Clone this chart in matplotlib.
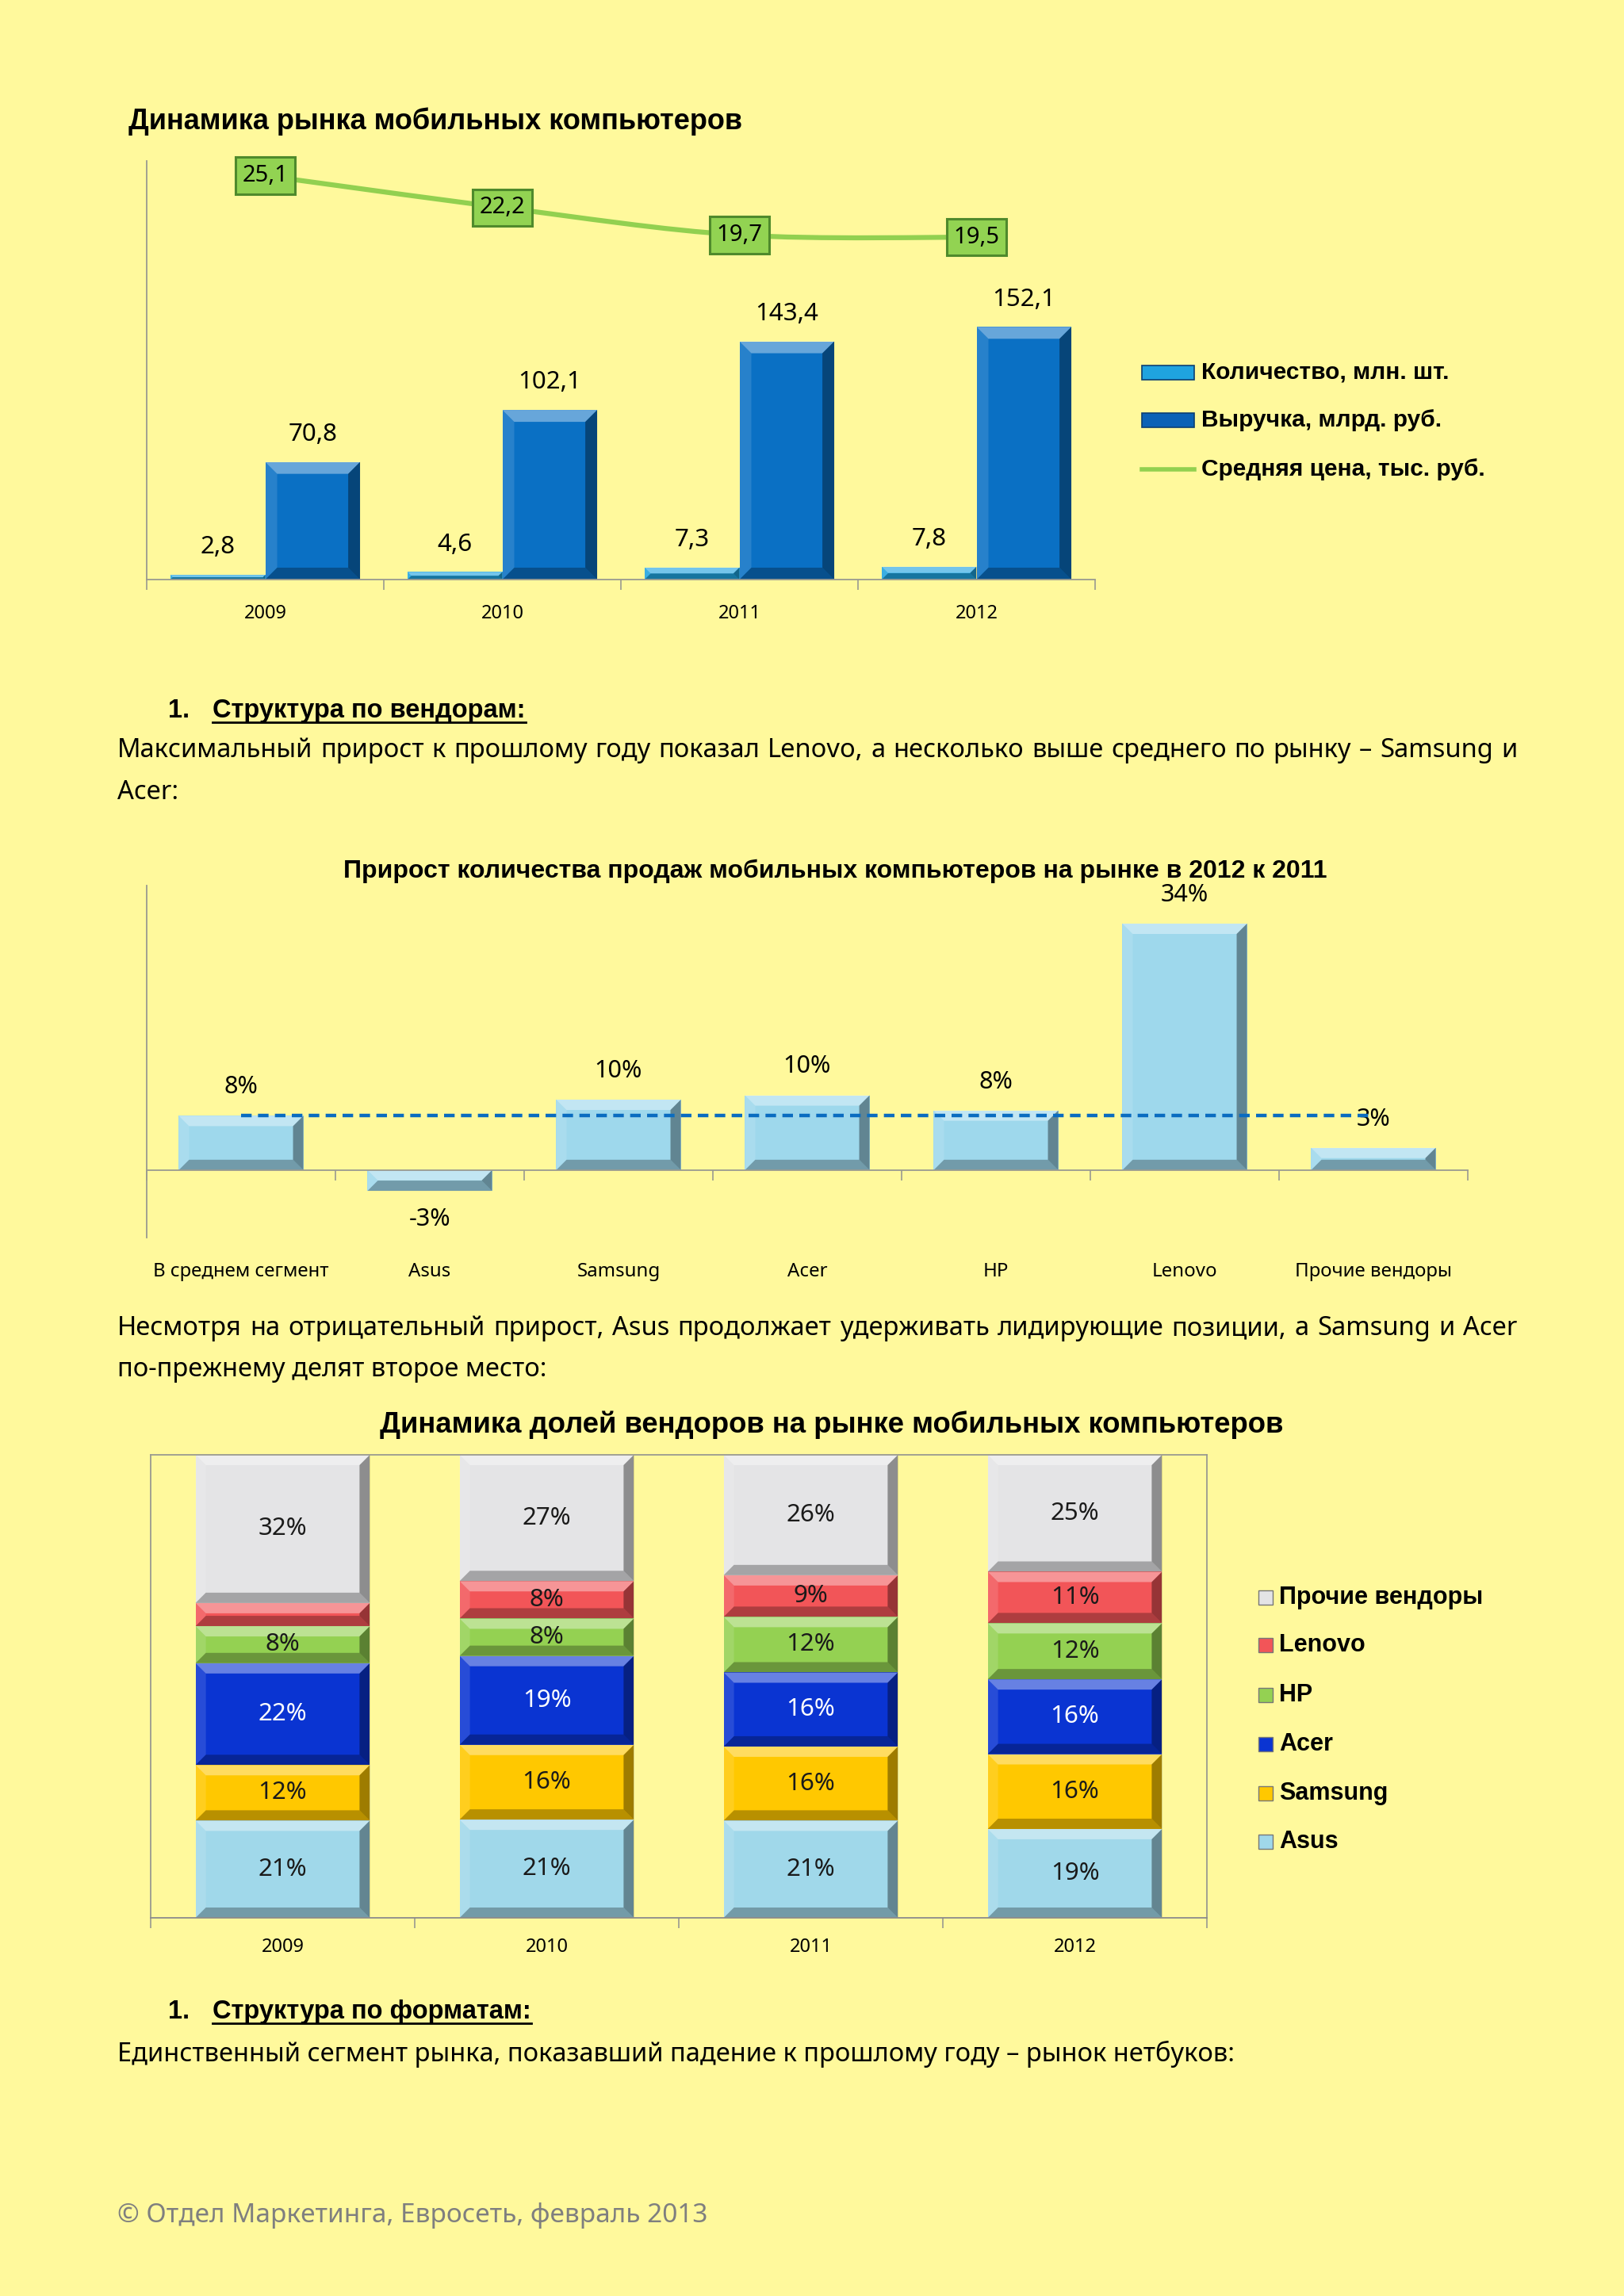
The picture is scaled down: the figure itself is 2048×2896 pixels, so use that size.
import numpy as np
import matplotlib
matplotlib.use("Agg")
import matplotlib.pyplot as plt
from matplotlib.patches import Polygon, Rectangle, PathPatch
from matplotlib.lines import Line2D
from matplotlib.path import Path

plt.rcParams['font.family'] = ['Noto Sans', 'DejaVu Sans']
BOLD = dict(family=['Liberation Sans', 'DejaVu Sans'], fontweight='bold')

BG = '#FFF99C'
W, H = 2048, 2896
GRAY = '#9A9A90'

# -------- market dynamics --------
years = ['2009', '2010', '2011', '2012']
units_mln = [2.8, 4.6, 7.3, 7.8]
revenue_bln = [70.8, 102.1, 143.4, 152.1]
avg_price_k = [25.1, 22.2, 19.7, 19.5]

# -------- growth 2012 vs 2011 --------
growth_cats = ['В среднем сегмент', 'Asus', 'Samsung', 'Acer', 'HP', 'Lenovo', 'Прочие вендоры']
growth = [0.0755, -0.029, 0.098, 0.104, 0.083, 0.343, 0.031]
growth_avg = 0.0755

# -------- vendor shares, % --------
vendors = ['Asus', 'Samsung', 'Acer', 'HP', 'Lenovo', 'Прочие вендоры']
share_asus = [21, 21, 21, 19]
share_samsung = [12, 16, 16, 16]
share_acer = [22, 19, 16, 16]
share_hp = [8, 8, 12, 12]
share_lenovo = [5, 8, 9, 11]
share_other = [32, 27, 26, 25]
vendor_colors = ['#A0D8EA', '#FFC800', '#0A34D2', '#94D152', '#F25558', '#E4E4E6']

fig = plt.figure(figsize=(W / 100, H / 100), dpi=100, facecolor=BG)


def axes_px(left, top, right, bottom):
    ax = fig.add_axes([left / W, 1 - bottom / H, (right - left) / W, (bottom - top) / H])
    ax.set_facecolor('none')
    return ax


def bevel(ax, bars, px=13):
    # fake excel bevel: light top/left, dark bottom/right
    inv = ax.transData.inverted()
    for b in bars:
        x0, x1 = b.get_x(), b.get_x() + b.get_width()
        ya, yb = b.get_y(), b.get_y() + b.get_height()
        (X0, Y0), (X1, Y1) = ax.transData.transform([(x0, min(ya, yb)), (x1, max(ya, yb))])
        d = min(px, (X1 - X0) / 2, (Y1 - Y0) / 2)
        o = [(X0, Y0), (X1, Y0), (X1, Y1), (X0, Y1)]
        i = [(X0 + d, Y0 + d), (X1 - d, Y0 + d), (X1 - d, Y1 - d), (X0 + d, Y1 - d)]
        parts = [([o[3], o[2], i[2], i[3]], 'white', 0.38),
                 ([o[0], i[0], i[3], o[3]], 'white', 0.12),
                 ([o[0], o[1], i[1], i[0]], 'black', 0.28),
                 ([o[1], o[2], i[2], i[1]], 'black', 0.38)]
        for poly, c, a in parts:
            ax.add_patch(Polygon(inv.transform(poly), closed=True, fc=c, alpha=a,
                                 ec='none', zorder=b.get_zorder() + 0.1))


def smooth_path(xs, ys):
    pts = np.column_stack([xs, ys]).astype(float)
    verts = [pts[0]]
    codes = [Path.MOVETO]
    for k in range(len(pts) - 1):
        p0 = pts[k - 1] if k > 0 else pts[k]
        p1, p2 = pts[k], pts[k + 1]
        p3 = pts[k + 2] if k + 2 < len(pts) else pts[k + 1]
        verts += [p1 + (p2 - p0) / 6, p2 - (p3 - p1) / 6, p2]
        codes += [Path.CURVE4] * 3
    return Path(verts, codes)


def cat_axis(ax, n, pad):
    ax.set_xlim(-0.5, n - 0.5)
    ax.set_xticks(np.arange(n))
    ax.set_xticks(np.arange(n + 1) - 0.5, minor=True)
    ax.tick_params(axis='x', which='major', length=0, pad=pad, labelsize=17)
    ax.tick_params(axis='x', which='minor', length=9, width=1.2, color=GRAY, direction='out')
    ax.set_yticks([])
    for s in ax.spines.values():
        s.set_color(GRAY)
        s.set_linewidth(1.3)


renderer = fig.canvas.get_renderer()
BODY = 23.5


def text_line(y, s, justify=False, x0=148, x1=1913, **kw):
    kw.setdefault('fontsize', BODY)
    if not justify:
        return fig.text(x0 / W, 1 - y / H, s, va='baseline', ha='left', **kw)
    words = s.split()
    texts = [fig.text(0, 0, w, va='baseline', ha='left', **kw) for w in words]
    widths = [t.get_window_extent(renderer).width for t in texts]
    gap = (x1 - x0 - sum(widths)) / (len(words) - 1)
    x = x0
    for t, w in zip(texts, widths):
        t.set_position((x / W, 1 - y / H))
        x += w + gap


def heading(y, s):
    fig.text(212 / W, 1 - y / H, '1.', va='baseline', ha='left', fontsize=23.5, **BOLD)
    t = fig.text(268 / W, 1 - y / H, s, va='baseline', ha='left', fontsize=23.5, **BOLD)
    bb = t.get_window_extent(renderer)
    yy = 1 - (y + 6) / H
    fig.add_artist(Line2D([bb.x0 / W, bb.x1 / W], [yy, yy], color='black', lw=2))


# ================= chart 1 =================
fig.text(162 / W, 1 - 153 / H, 'Динамика рынка мобильных компьютеров',
         fontsize=26, va='center', ha='left', **BOLD)

ax1 = axes_px(185, 203, 1381, 731)
x = np.arange(len(years))
cat_axis(ax1, len(years), 22)
ax1.set_xticklabels(years)
ax1.set_ylim(0, 252)
ax1.spines['top'].set_visible(False)
ax1.spines['right'].set_visible(False)
b_units = ax1.bar(x - 0.2, units_mln, 0.4, color='#1FA3DF', zorder=2)
b_rev = ax1.bar(x + 0.2, revenue_bln, 0.4, color='#0A70C4', zorder=2)
bevel(ax1, b_units, 8)
bevel(ax1, b_rev, 15)
for xi, v in zip(x - 0.2, units_mln):
    ax1.annotate(f'{v:.1f}'.replace('.', ','), (xi, v), xytext=(0, 25), textcoords='offset points',
                 ha='center', va='center', fontsize=22.5)
for xi, v in zip(x + 0.2, revenue_bln):
    ax1.annotate(f'{v:.1f}'.replace('.', ','), (xi, v), xytext=(0, 25), textcoords='offset points',
                 ha='center', va='center', fontsize=22.5)

ax1b = ax1.twinx()
ax1b.set_ylim(-11.66, 26.44)
ax1b.set_axis_off()
ax1b.add_patch(PathPatch(smooth_path(x, avg_price_k), fc='none', ec='#92D050', lw=4.5,
                         capstyle='round', zorder=3))
for xi, v in zip(x, avg_price_k):
    ax1b.text(xi, v, f'{v:.1f}'.replace('.', ','), ha='center', va='center', fontsize=21, zorder=4,
              bbox=dict(boxstyle='square,pad=0.3', fc='#92D352', ec='#4F8A2C', lw=2.2))

# legend
leg1 = [('Количество, млн. шт.', '#1FA3DF', 'bar', 470),
        ('Выручка, млрд. руб.', '#0A62B6', 'bar', 530),
        ('Средняя цена, тыс. руб.', '#92D050', 'line', 592)]
for lab, c, kind, yc in leg1:
    if kind == 'bar':
        fig.add_artist(Rectangle((1440 / W, 1 - (yc + 9) / H), 66 / W, 18 / H,
                                 fc=c, ec='#0B3F73', lw=1.2, transform=fig.transFigure))
    else:
        fig.add_artist(Line2D([1440 / W, 1506 / W], [1 - yc / H] * 2, color=c, lw=4))
    fig.text(1515 / W, 1 - yc / H, lab, fontsize=21.5, va='center', ha='left', **BOLD)

# ================= text 1 =================
heading(905, 'Структура по вендорам:')
text_line(955, 'Максимальный прирост к прошлому году показал Lenovo,  а несколько выше среднего по рынку – Samsung и',
          justify=True)
text_line(1008, 'Acer:')

# ================= chart 2 =================
fig.text(1053 / W, 1 - 1099 / H, 'Прирост количества продаж мобильных компьютеров на рынке в 2012 к 2011',
         fontsize=23, va='center', ha='center', **BOLD)

ax2 = axes_px(185, 1117, 1851, 1561)
xg = np.arange(len(growth_cats))
ax2.set_xlim(-0.5, len(growth_cats) - 0.5)
ax2.set_ylim(-0.094, 0.396)
ax2.set_yticks([])
ax2.spines['top'].set_visible(False)
ax2.spines['right'].set_visible(False)
ax2.spines['left'].set_color(GRAY)
ax2.spines['left'].set_linewidth(1.3)
ax2.spines['bottom'].set_position(('data', 0))
ax2.spines['bottom'].set_color(GRAY)
ax2.spines['bottom'].set_linewidth(1.3)
ax2.set_xticks(np.arange(len(growth_cats) + 1) - 0.5)
ax2.set_xticklabels([])
ax2.tick_params(axis='x', length=9, width=1.2, color=GRAY, direction='out')
sec = ax2.secondary_xaxis(0)
sec.set_xticks(xg, growth_cats)
sec.tick_params(length=0, pad=22, labelsize=17.3)
sec.spines['bottom'].set_visible(False)

b_gr = ax2.bar(xg, growth, 0.66, color='#9ED8EC', zorder=2)
bevel(ax2, b_gr, 13)
for xi, v in zip(xg, growth):
    ax2.annotate(f'{v:.0%}', (xi, v), xytext=(0, 26 if v >= 0 else -26), textcoords='offset points',
                 ha='center', va='center', fontsize=22)
ax2.plot([xg[0], xg[-1]], [growth_avg, growth_avg], color='#0A6CC0', lw=3.2,
         linestyle=(0, (3, 1.8)), dash_capstyle='butt', zorder=3)

# ================= text 2 =================
text_line(1684, 'Несмотря на отрицательный прирост, Asus продолжает удерживать лидирующие позиции, а Samsung и Acer',
          justify=True)
text_line(1736, 'по-прежнему делят второе место:')

# ================= chart 3 =================
fig.text(1049 / W, 1 - 1797 / H, 'Динамика долей вендоров на рынке мобильных компьютеров',
         fontsize=26.3, va='center', ha='center', **BOLD)

ax3 = axes_px(190, 1835, 1522, 2419)
cat_axis(ax3, len(years), 18)
ax3.set_xticklabels(years)
ax3.set_ylim(0, 1)
ax3.spines['bottom'].set_color('#8C8C8C')

share_series = [share_asus, share_samsung, share_acer, share_hp, share_lenovo, share_other]
totals = np.sum(share_series, axis=0)
bottom = np.zeros(len(years))
for name, vals, c in zip(vendors, share_series, vendor_colors):
    frac = np.array(vals) / totals
    bars = ax3.bar(x, frac, 0.66, bottom=bottom, color=c, zorder=2)
    bevel(ax3, bars, 13)
    tc = 'white' if name == 'Acer' else '#1A1A1A'
    for xi, v, f, b0 in zip(x, vals, frac, bottom):
        if v >= 6:
            ax3.text(xi, b0 + f / 2, f'{v}%', ha='center', va='center', fontsize=22.5, color=tc, zorder=4)
    bottom = bottom + frac

# legend
leg_y = [2323, 2262, 2200, 2138, 2075, 2015]
for name, c, yc in zip(vendors, vendor_colors, leg_y):
    fig.add_artist(Rectangle((1587 / W, 1 - (yc + 9) / H), 18 / W, 18 / H, fc=c, ec='#777777',
                             lw=1, transform=fig.transFigure))
    fig.text(1613 / W, 1 - yc / H, name, fontsize=22, va='center', ha='left', **BOLD)

# ================= text 3 =================
heading(2546, 'Структура по форматам:')
text_line(2600, 'Единственный сегмент рынка, показавший падение к прошлому году – рынок нетбуков:')
text_line(2803, '© Отдел Маркетинга, Евросеть, февраль 2013', fontsize=24, color='#7F7F7F')

fig.savefig('out.png', dpi=100, facecolor=BG)
